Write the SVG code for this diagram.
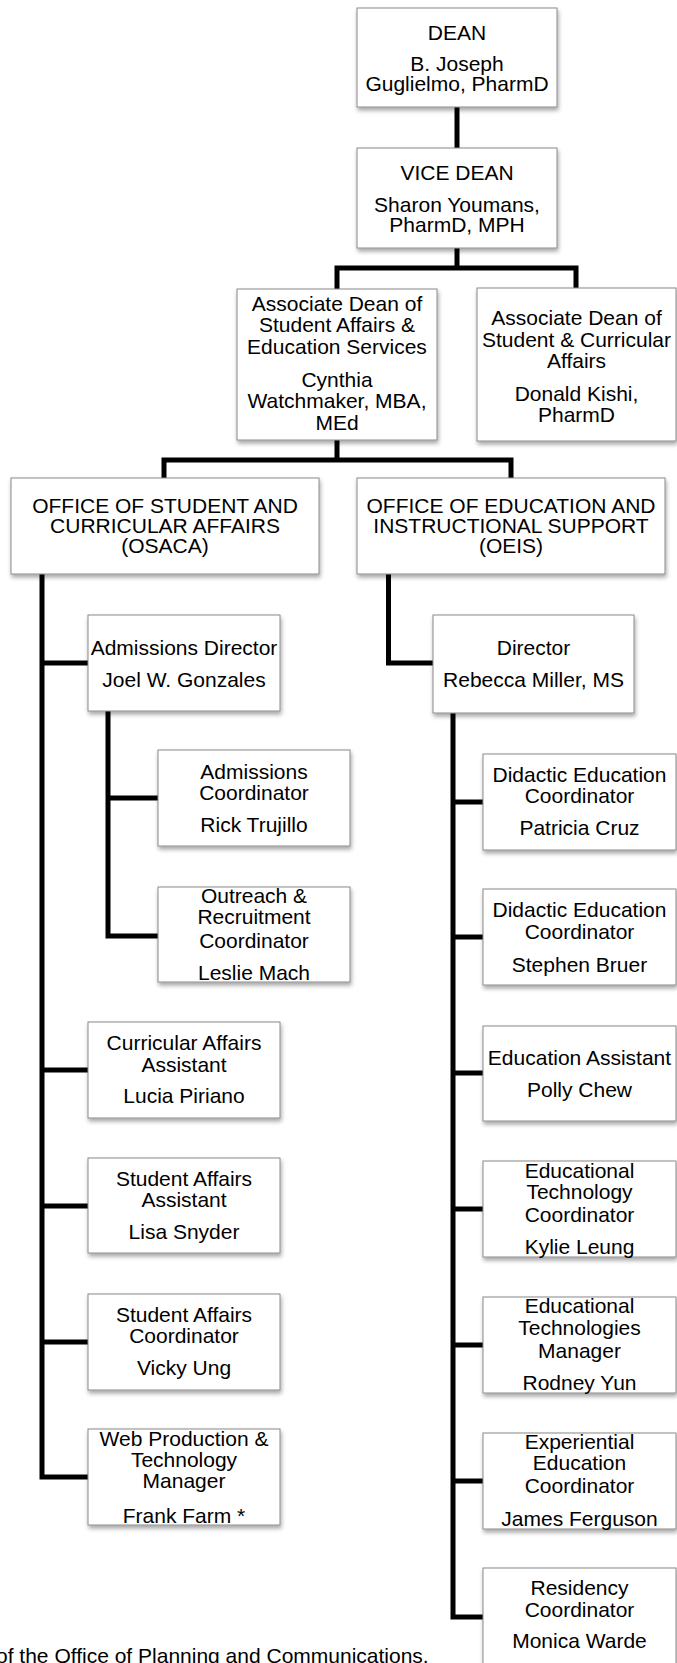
<svg xmlns="http://www.w3.org/2000/svg" width="677" height="1663" viewBox="0 0 677 1663">
<style>
.box{fill:#fff;stroke:#8a8a8a;stroke-width:1;filter:url(#sh)}
.t{font-family:"Liberation Sans",Arial,Helvetica,sans-serif;font-size:21px;fill:#000;text-anchor:middle}
.ft{font-family:"Liberation Sans",Arial,Helvetica,sans-serif;font-size:21px;fill:#000}
.c{fill:none;stroke:#000;stroke-width:5;stroke-linejoin:miter}
</style>
<defs>
<filter id="sh" x="-10%" y="-10%" width="130%" height="140%">
<feDropShadow dx="1" dy="3" stdDeviation="2" flood-color="#000" flood-opacity="0.35"/>
</filter>
</defs>
<rect width="677" height="1663" fill="#fff"/>
<g id="connectors">
<path class="c" d="M457,107V148"/>
<path class="c" d="M457,248V268"/>
<path class="c" d="M337,289V268H576V288"/>
<path class="c" d="M337,440V460"/>
<path class="c" d="M164,478V460H511V478"/>
<path class="c" d="M42,574V1477H88"/>
<path class="c" d="M42,663H88M42,1070H88M42,1206H88M42,1342H88"/>
<path class="c" d="M108,711V936H158M108,798H158"/>
<path class="c" d="M388.5,574V663H433"/>
<path class="c" d="M453,713V1617H483"/>
<path class="c" d="M453,802H483M453,937H483M453,1073H483M453,1209H483M453,1345H483M453,1481H483"/>
</g>
<g id="dean">
<rect class="box" x="357" y="8" width="200" height="99"/>
<text class="t" x="457"><tspan x="457" y="39.5">DEAN</tspan><tspan x="457" y="71">B. Joseph</tspan><tspan x="457" y="91">Guglielmo, PharmD</tspan></text>
</g>
<g id="vice-dean">
<rect class="box" x="357" y="148" width="200" height="100"/>
<text class="t"><tspan x="457" y="180">VICE DEAN</tspan><tspan x="457" y="211.7">Sharon Youmans,</tspan><tspan x="457" y="232.3">PharmD, MPH</tspan></text>
</g>
<g id="assoc-dean-sa">
<rect class="box" x="237" y="289" width="200" height="151"/>
<text class="t"><tspan x="337" y="310.7">Associate Dean of</tspan><tspan x="337" y="332.3">Student Affairs &amp;</tspan><tspan x="337" y="354.3">Education Services</tspan><tspan x="337" y="386.7">Cynthia</tspan><tspan x="337" y="408.3">Watchmaker, MBA,</tspan><tspan x="337" y="430">MEd</tspan></text>
</g>
<g id="assoc-dean-sca">
<rect class="box" x="477" y="288" width="199" height="153"/>
<text class="t"><tspan x="576.5" y="325">Associate Dean of</tspan><tspan x="576.5" y="346.7">Student &amp; Curricular</tspan><tspan x="576.5" y="367.7">Affairs</tspan><tspan x="576.5" y="401">Donald Kishi,</tspan><tspan x="576.5" y="421.7">PharmD</tspan></text>
</g>
<g id="osaca">
<rect class="box" x="11" y="478" width="308" height="96"/>
<text class="t"><tspan x="165" y="512.7">OFFICE OF STUDENT AND</tspan><tspan x="165" y="532.7">CURRICULAR AFFAIRS</tspan><tspan x="165" y="552.7">(OSACA)</tspan></text>
</g>
<g id="oeis">
<rect class="box" x="357" y="478" width="308" height="96"/>
<text class="t"><tspan x="511" y="512.7">OFFICE OF EDUCATION AND</tspan><tspan x="511" y="532.7">INSTRUCTIONAL SUPPORT</tspan><tspan x="511" y="552.7">(OEIS)</tspan></text>
</g>
<g id="admissions-director">
<rect class="box" x="88" y="615" width="192" height="96"/>
<text class="t"><tspan x="184" y="655">Admissions Director</tspan><tspan x="184" y="687.3">Joel W. Gonzales</tspan></text>
</g>
<g id="director">
<rect class="box" x="433" y="615" width="201" height="98"/>
<text class="t"><tspan x="533.5" y="655">Director</tspan><tspan x="533.5" y="687.3">Rebecca Miller, MS</tspan></text>
</g>
<g id="admissions-coordinator">
<rect class="box" x="158" y="750" width="192" height="96"/>
<text class="t"><tspan x="254" y="779">Admissions</tspan><tspan x="254" y="799.5">Coordinator</tspan><tspan x="254" y="831.7">Rick Trujillo</tspan></text>
</g>
<g id="outreach-coordinator">
<rect class="box" x="158" y="887" width="192" height="95"/>
<text class="t"><tspan x="254" y="902.7">Outreach &amp;</tspan><tspan x="254" y="924">Recruitment</tspan><tspan x="254" y="947.7">Coordinator</tspan><tspan x="254" y="980">Leslie Mach</tspan></text>
</g>
<g id="curricular-affairs-assistant">
<rect class="box" x="88" y="1022" width="192" height="96"/>
<text class="t"><tspan x="184" y="1050">Curricular Affairs</tspan><tspan x="184" y="1071.7">Assistant</tspan><tspan x="184" y="1103.3">Lucia Piriano</tspan></text>
</g>
<g id="student-affairs-assistant">
<rect class="box" x="88" y="1158" width="192" height="95"/>
<text class="t"><tspan x="184" y="1186">Student Affairs</tspan><tspan x="184" y="1206.7">Assistant</tspan><tspan x="184" y="1239.3">Lisa Snyder</tspan></text>
</g>
<g id="student-affairs-coordinator">
<rect class="box" x="88" y="1294" width="192" height="96"/>
<text class="t"><tspan x="184" y="1321.7">Student Affairs</tspan><tspan x="184" y="1342.7">Coordinator</tspan><tspan x="184" y="1375">Vicky Ung</tspan></text>
</g>
<g id="web-production-manager">
<rect class="box" x="88" y="1429" width="192" height="96"/>
<text class="t"><tspan x="184" y="1446">Web Production &amp;</tspan><tspan x="184" y="1466.7">Technology</tspan><tspan x="184" y="1488">Manager</tspan><tspan x="184" y="1522.7">Frank Farm *</tspan></text>
</g>
<g id="didactic-1">
<rect class="box" x="483" y="754" width="193" height="96"/>
<text class="t"><tspan x="579.5" y="781.7">Didactic Education</tspan><tspan x="579.5" y="803.3">Coordinator</tspan><tspan x="579.5" y="835">Patricia Cruz</tspan></text>
</g>
<g id="didactic-2">
<rect class="box" x="483" y="889" width="193" height="96"/>
<text class="t"><tspan x="579.5" y="917.3">Didactic Education</tspan><tspan x="579.5" y="939">Coordinator</tspan><tspan x="579.5" y="971.7">Stephen Bruer</tspan></text>
</g>
<g id="education-assistant">
<rect class="box" x="483" y="1026" width="193" height="95"/>
<text class="t"><tspan x="579.5" y="1065">Education Assistant</tspan><tspan x="579.5" y="1097">Polly Chew</tspan></text>
</g>
<g id="ed-tech-coordinator">
<rect class="box" x="483" y="1161" width="193" height="96"/>
<text class="t"><tspan x="579.5" y="1177.5">Educational</tspan><tspan x="579.5" y="1198.7">Technology</tspan><tspan x="579.5" y="1222">Coordinator</tspan><tspan x="579.5" y="1254">Kylie Leung</tspan></text>
</g>
<g id="ed-tech-manager">
<rect class="box" x="483" y="1297" width="193" height="96"/>
<text class="t"><tspan x="579.5" y="1313">Educational</tspan><tspan x="579.5" y="1335">Technologies</tspan><tspan x="579.5" y="1358">Manager</tspan><tspan x="579.5" y="1390">Rodney Yun</tspan></text>
</g>
<g id="experiential-coordinator">
<rect class="box" x="483" y="1433" width="193" height="96"/>
<text class="t"><tspan x="579.5" y="1448.5">Experiential</tspan><tspan x="579.5" y="1470">Education</tspan><tspan x="579.5" y="1493">Coordinator</tspan><tspan x="579.5" y="1525.5">James Ferguson</tspan></text>
</g>
<g id="residency-coordinator">
<rect class="box" x="483" y="1568" width="193" height="110"/>
<text class="t"><tspan x="579.5" y="1595">Residency</tspan><tspan x="579.5" y="1617">Coordinator</tspan><tspan x="579.5" y="1648">Monica Warde</tspan></text>
</g>
<text class="ft" x="-4" y="1663">of the Office of Planning and Communications.</text>
</svg>
